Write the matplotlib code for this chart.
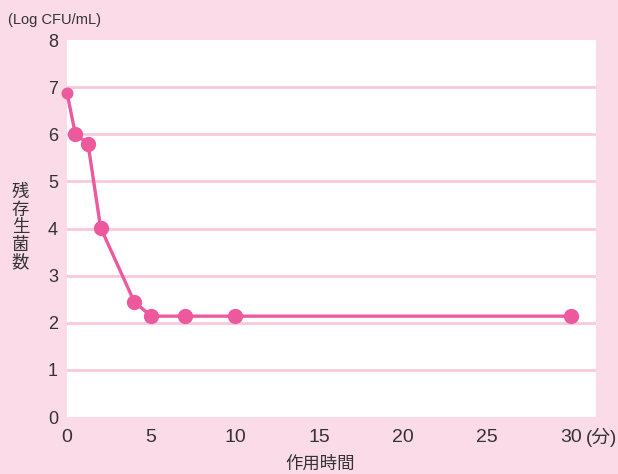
import matplotlib
matplotlib.use("Agg")
import matplotlib.pyplot as plt

times = [0, 0.5, 1.25, 2, 4, 5, 7, 10, 30]
counts = [6.88, 6.0, 5.8, 4.02, 2.45, 2.14, 2.14, 2.14, 2.14]
xticks = [0, 5, 10, 15, 20, 25, 30]
yticks = [0, 1, 2, 3, 4, 5, 6, 7, 8]
ylabel_chars = ["残", "存", "生", "菌", "数"]

bg = "#fadbe7"
grid = "#f8c9dd"
line = "#ec5a9d"
txt = "#333333"

plt.rcParams['font.family'] = ['Liberation Sans', 'Noto Sans CJK JP', 'DejaVu Sans']

W, H = 618, 474
fig = plt.figure(figsize=(W/100, H/100), dpi=100, facecolor=bg)
ax = fig.add_axes([67/W, 1-417/H, (596-67)/W, (417-40)/H])
ax.set_facecolor("white")
ax.set_xlim(0, 31.5)
ax.set_ylim(0, 8)
for s in ax.spines.values():
    s.set_visible(False)
for y in yticks[1:-1]:
    ax.axhline(y, color=grid, lw=2.0, zorder=1)

ax.plot(times, counts, color=line, lw=2.4, zorder=3, clip_on=False)
ax.plot(times[1:], counts[1:], 'o', color=line, ms=11, mew=0, zorder=4, clip_on=False)
ax.plot(times[:1], counts[:1], 'o', color=line, ms=8.6, mew=0, zorder=4, clip_on=False)

ax.set_xticks(xticks)
ax.set_xticklabels([str(t) for t in xticks])
ax.set_yticks(yticks)
ax.set_yticklabels([str(t) for t in yticks])
ax.tick_params(axis='both', length=0, colors=txt)
ax.tick_params(axis='x', pad=9, labelsize=14)
ax.tick_params(axis='y', pad=6.5, labelsize=13)

fig.text(585.5/W, 1-437/H, "(分)", fontsize=13.5, color=txt, va='center', ha='left')
fig.text(8/W, 1-20/H, "(Log CFU/mL)", fontsize=10.5, color=txt, va='center', ha='left')
for i, ch in enumerate(ylabel_chars):
    fig.text(20.5/W, 1-(192 + 17.7*i)/H, ch, fontsize=12.5, color=txt, va='center', ha='center',
             family=['Noto Sans CJK JP'])
fig.text(320/W, 1-464/H, "作用時間", fontsize=12.5, color=txt, va='center', ha='center',
         family=['Noto Sans CJK JP'])

fig.savefig("out.png", dpi=100, facecolor=bg)
